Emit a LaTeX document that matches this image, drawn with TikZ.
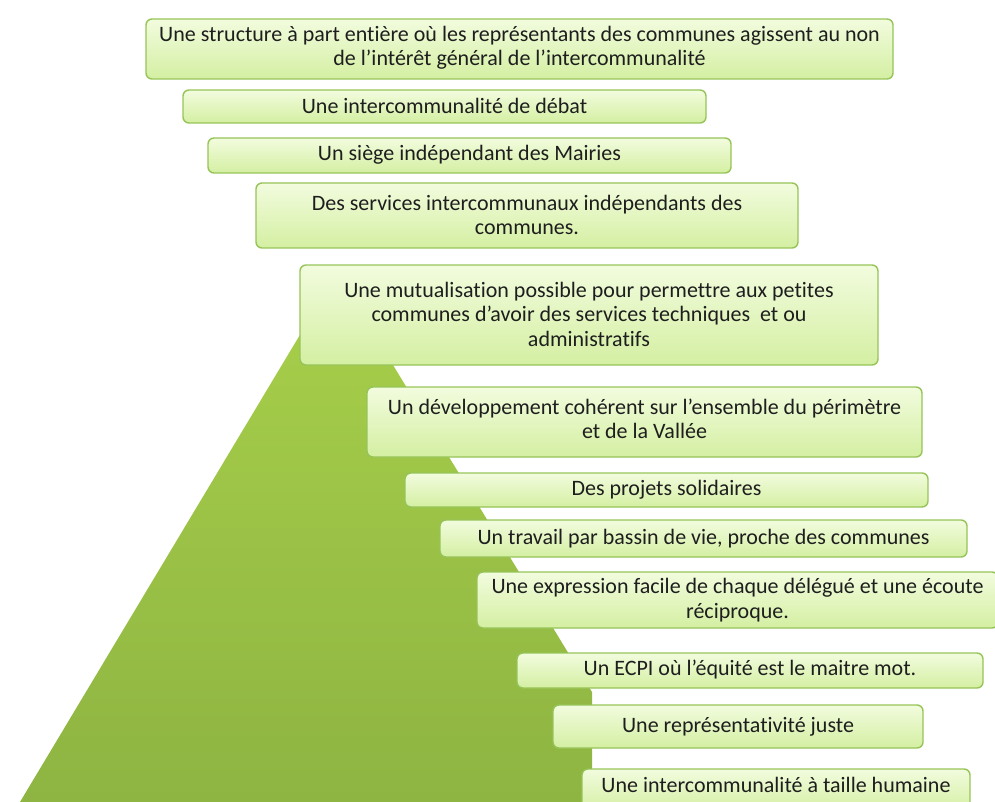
\documentclass[tikz,border=0pt]{standalone}
\usepackage{fontspec}
\setmainfont{Carlito}[Ligatures=NoCommon]
\definecolor{pyrtop}{RGB}{168,208,74}
\definecolor{pyrbot}{RGB}{142,180,66}
\definecolor{boxtop}{RGB}{242,252,222}
\definecolor{boxbot}{RGB}{212,239,162}
\definecolor{boxline}{RGB}{150,196,88}
\definecolor{txt}{RGB}{30,30,30}
\begin{document}
\begin{tikzpicture}[x=1pt,y=-1pt,
  pbox/.style={draw=boxline, line width=1.4pt, rounded corners=6pt,
    top color=boxtop, bottom color=boxbot, inner sep=0pt},
  ptext/.style={inner sep=0pt, align=center, text=txt,
    font=\fontsize{22}{24.5}\selectfont}]
\useasboundingbox (0,0) rectangle (995,802);
% pyramid
\path[top color=pyrtop, bottom color=pyrbot] (337,273) -- (592,692) -- (592,802) -- (20,802) -- cycle;
\newcommand{\pbx}[7]{%
  \node[pbox, minimum width=#4-#2, minimum height=#5-#3] (#1) at ({(#2+#4)/2},{(#3+#5)/2}) {};
  \node[ptext] (#1t) at ({(#2+#4)/2},#6) {#7};}
\pbx{b1}{146}{19}{893}{79}{48}{Une structure à part entière où les représentants des communes agissent au non\\de l’intérêt général de l’intercommunalité}
\pbx{b2}{183}{90}{706}{123}{106}{Une intercommunalité de débat}
\pbx{b3}{208}{138}{731}{173}{155}{Un siège indépendant des Mairies}
\pbx{b4}{256}{183}{798}{248}{215}{Des services intercommunaux indépendants des\\communes.}
\pbx{b5}{300}{265}{878}{365}{314}{Une mutualisation possible pour permettre aux petites\\communes d’avoir des services techniques\ \ et ou\\administratifs}
\pbx{b6}{367}{387}{922}{457}{419}{Un développement cohérent sur l’ensemble du périmètre\\et de la Vallée}
\pbx{b7}{405}{473}{928}{507}{490}{Des projets solidaires}
\pbx{b8}{440}{520}{967}{557}{539}{Un travail par bassin de vie, proche des communes}
\pbx{b9}{477}{572}{998}{628}{600}{Une expression facile de chaque délégué et une écoute\\réciproque.}
\pbx{b10}{517}{653}{983}{688}{670}{Un ECPI où l’équité est le maitre mot.}
\pbx{b11}{553}{705}{923}{748}{727}{Une représentativité juste}
\pbx{b12}{582}{769}{970}{812}{785}{Une intercommunalité à taille humaine}
\end{tikzpicture}
\end{document}
